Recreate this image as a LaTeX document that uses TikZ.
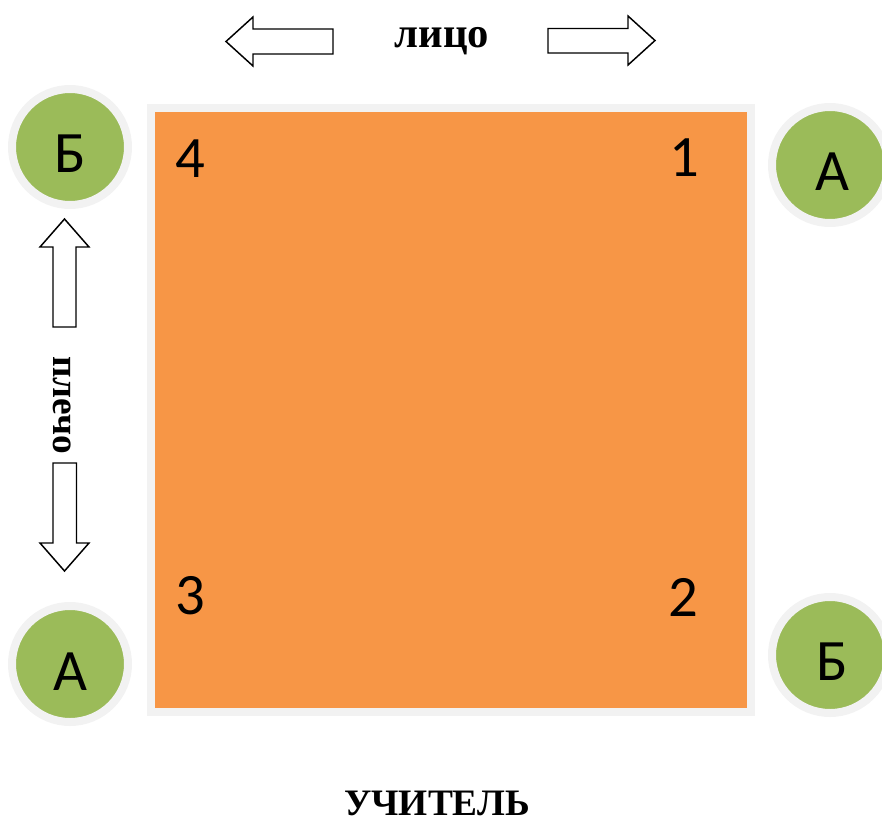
\documentclass[tikz,border=0pt]{standalone}
\usepackage{fontspec}
\setmainfont{Liberation Serif}
\newfontfamily\calib{Carlito}
\usetikzlibrary{calc}
\definecolor{sqorange}{HTML}{F79646}
\definecolor{ballgreen}{HTML}{9BBB59}
\definecolor{ringgray}{HTML}{F2F2F2}
\tikzset{
  ball/.style={circle, fill=ballgreen, draw=ringgray, line width=6pt, minimum size=87pt, inner sep=0pt},
  balltxt/.style={font=\calib\fontsize{44}{50}\selectfont, inner sep=0pt, text=black},
  numtxt/.style={font=\calib\fontsize{44}{50}\selectfont, inner sep=0pt, text=black},
  boldlabel/.style={font=\bfseries\fontsize{28}{32}\selectfont, inner sep=0pt},
  hollowarrow/.style={draw=black, fill=white, line width=1.1pt, line join=miter},
  court/.style={rectangle, fill=sqorange, draw=ringgray, line width=6pt, minimum width=450pt, minimum height=453pt, inner sep=0pt}
}
\begin{document}
\begin{tikzpicture}[x=0.75pt,y=-0.75pt]
\useasboundingbox (0,0) rectangle (882,821);
\clip (0,0) rectangle (882,821);
% court
\node[court] (court) at (451,410) {};
% corner numbers
\node[numtxt] (n4) at (190,159) {4};
\node[numtxt] (n1) at (684,158) {1};
\node[numtxt] (n3) at (190,596) {3};
\node[numtxt] (n2) at (683,597) {2};
% balls
\node[ball] (tl) at (70,147) {};
\node[balltxt] (tlt) at ($(tl)+(0,7)$) {Б};
\node[ball] (tr) at (830,165) {};
\node[balltxt] (trt) at ($(tr)+(2,7)$) {А};
\node[ball] (bl) at (70,664) {};
\node[balltxt] (blt) at ($(bl)+(0,8)$) {А};
\node[ball] (br) at (830,655) {};
\node[balltxt] (brt) at ($(br)+(2,7)$) {Б};
% labels
\node[boldlabel, font=\bfseries\fontsize{32}{36}\selectfont, anchor=base] (lico) at (442,47) {лицо};
\node[boldlabel, anchor=base] (uchitel) at (437,815) {УЧИТЕЛЬ};
\node[boldlabel, rotate=-90] (pleco) at (62,405) {плечо};
% horizontal arrows
\draw[hollowarrow] (333,29) -- (253,29) -- (253,17) -- (226,41.5) -- (253,66) -- (253,54) -- (333,54) -- cycle;
\draw[hollowarrow] (548,28.5) -- (628,28.5) -- (628,16) -- (655,40.5) -- (628,65) -- (628,53) -- (548,53) -- cycle;
% vertical arrows
\draw[hollowarrow] (53,327) -- (53,247) -- (40,247) -- (64.5,219) -- (89,247) -- (76,247) -- (76,327) -- cycle;
\draw[hollowarrow] (53,463) -- (53,543) -- (40,543) -- (64.5,571) -- (89,543) -- (76.5,543) -- (76.5,463) -- cycle;
\end{tikzpicture}
\end{document}
